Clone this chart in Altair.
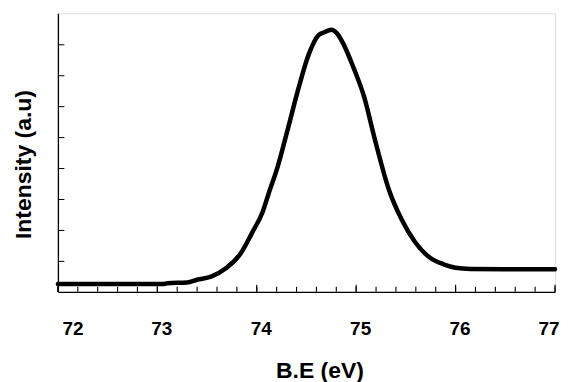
import altair as alt
import pandas as pd

# Binding energy (eV) and intensity (arbitrary units)
be = [72.0, 72.5, 73.0, 73.06, 73.10, 73.30, 73.40, 73.54, 73.69, 73.84, 73.95,
      74.06, 74.12, 74.21, 74.31, 74.41, 74.52, 74.62, 74.68, 74.75, 74.81, 74.87,
      74.97, 75.08, 75.19, 75.33, 75.46, 75.59, 75.74, 75.88, 76.00, 76.15, 76.5, 77.0]
intensity = [0.25, 0.25, 0.25, 0.25, 0.28, 0.30, 0.39, 0.49, 0.76, 1.25, 1.89,
             2.59, 3.18, 4.04, 5.23, 6.46, 7.65, 8.29, 8.39, 8.47, 8.34, 8.02,
             7.27, 6.30, 4.90, 3.29, 2.32, 1.62, 1.11, 0.89, 0.78, 0.74, 0.73, 0.73]

x_major = [72, 73, 74, 75, 76, 77]
x_minor = [round(72 + 0.2 * i, 1) for i in range(26)]
y_ticks = [1, 2, 3, 4, 5, 6, 7, 8]

df = pd.DataFrame({"be": be, "intensity": intensity})
minor_df = pd.DataFrame({"t": x_minor})
major_df = pd.DataFrame({"t": x_major})

W, H = 498, 279
FONT = "Liberation Sans"

x_scale = alt.Scale(domain=[72, 77], nice=False, zero=False)
y_scale = alt.Scale(domain=[0, 9], nice=False, zero=False)

base = alt.Chart(df)

line = base.mark_line(color="black", strokeWidth=4.5, strokeJoin="round",
                      strokeCap="round", interpolate="monotone").encode(
    x=alt.X("be:Q", scale=x_scale, axis=alt.Axis(
        title="B.E (eV)", values=x_major, format="d", ticks=False, grid=False,
        domainColor="black", domainWidth=1.3,
        labelFont=FONT, labelFontSize=19, labelFontWeight="bold", labelColor="black",
        labelPadding=28, labelOffset=4,
        titleFont=FONT, titleFontSize=23, titleFontWeight="bold", titleColor="black",
        titleX=262, titleY=86, titleBaseline="alphabetic")),
    y=alt.Y("intensity:Q", scale=y_scale, axis=alt.Axis(
        title="Intensity (a.u)", labels=False, ticks=False, grid=False,
        domainColor="black", domainWidth=1.3,
        titleFont=FONT, titleFontSize=23, titleFontWeight="bold", titleColor="black",
        titleX=-34, titleY=151, titleBaseline="middle", titleAlign="center")),
)

yticks_layer = base.mark_line(opacity=0).encode(
    x=alt.X("be:Q", scale=x_scale, axis=None),
    y=alt.Y("intensity:Q", scale=y_scale, axis=alt.Axis(
        orient="right", offset=-W, values=y_ticks, labels=False, domain=False,
        grid=False, tickSize=6, tickColor="black", tickWidth=1, title=None)),
)

minor = alt.Chart(minor_df).mark_rule(color="black", strokeWidth=1.1).encode(
    x=alt.X("t:Q", scale=x_scale, axis=None),
    y=alt.value(H), y2=alt.value(H - 5),
)

major = alt.Chart(major_df).mark_rule(color="black", strokeWidth=1.1).encode(
    x=alt.X("t:Q", scale=x_scale, axis=None),
    y=alt.value(H), y2=alt.value(H - 7),
)

chart = alt.layer(line, yticks_layer, minor, major).resolve_axis(
    x="independent", y="independent"
).properties(width=W, height=H).configure_view(
    stroke="#999999", strokeWidth=1.3
).configure(background="white")

chart.save("out.html", embed_options={"renderer": "svg", "actions": False})
